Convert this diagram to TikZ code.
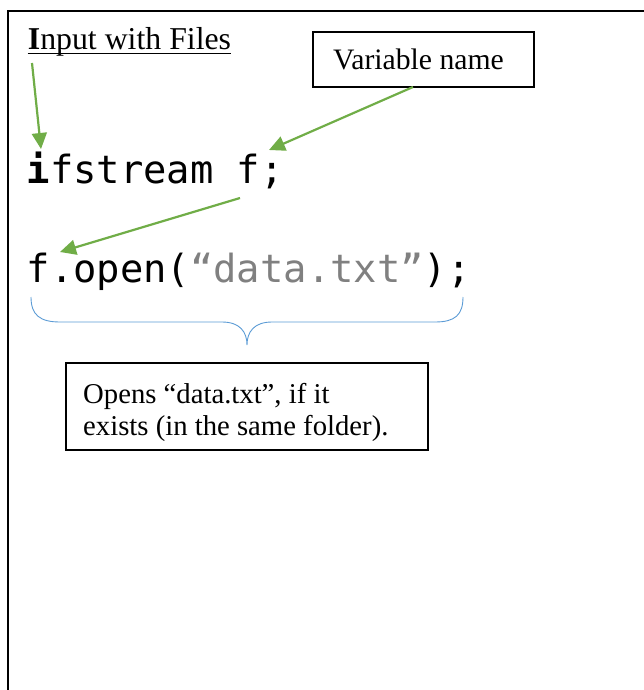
\documentclass[tikz,border=0pt]{standalone}
\usepackage{fontspec}
\setmainfont{Liberation Serif}
\newfontfamily\codefont{DejaVu Sans Mono}
\usetikzlibrary{arrows.meta}
\definecolor{arrowgreen}{HTML}{70AD47}
\definecolor{bracecol}{HTML}{5B9BD5}
\definecolor{strgray}{HTML}{808080}
\begin{document}
\begin{tikzpicture}[x=1pt,y=-1pt,
  greenarrow/.style={draw=arrowgreen, line width=2.2pt, -{Triangle[length=16pt,width=15pt]}},
  box/.style={draw, line width=1.3pt, inner sep=0pt},
  plain/.style={anchor=base west, inner sep=0pt},
  bodyfont/.style={font=\fontsize{28.7}{32}\selectfont},
  codetext/.style={plain, font=\codefont\fontsize{38.8}{44}\selectfont}]
\useasboundingbox (0,0) rectangle (644,690);
% frame
\draw[line width=2pt] (7.5,690) -- (7.5,11) -- (644,11);
% heading
\node[plain, font=\fontsize{31.8}{38}\selectfont] (title) at (27.7,50) {\textbf{I}nput with Files};
\draw[line width=1.5pt] ([yshift=-3.5pt]title.base west) -- ([yshift=-3.5pt]title.base east);
% variable name box
\node[box, font=\fontsize{29.7}{34}\selectfont, minimum width=221pt, minimum height=55pt] (var) at (423.5,59.5) {Variable name\kern10pt};
% code
\node[codetext] (decl) at (26.5,183) {\textbf{i}fstream f;};
\node[codetext] (open) at (26.5,282) {f.open(\textcolor{strgray}{“data.txt”});};
% brace
\draw[bracecol, line width=0.9pt] (31,297) .. controls (31,315) and (40,322) .. (60,322) -- (222,322)
  .. controls (240,322) and (247,332) .. (247,345)
  .. controls (247,332) and (254,322) .. (272,322) -- (435,322)
  .. controls (455,322) and (463,315) .. (463,297);
% note box
\node[box, minimum width=362pt, minimum height=87pt] (note) at (247,406.5) {};
\node[plain, bodyfont] (note1) at (83,403) {Opens “data.txt”, if it};
\node[plain, bodyfont] (note2) at (83,435) {exists (in the same folder).};
% arrows
\coordinate (a1s) at (32,63);
\coordinate (a1e) at (41,149);
\coordinate (a2s) at (413,87);
\coordinate (a2e) at (269,150);
\coordinate (a3s) at (240,198);
\coordinate (a3e) at (60,252);
\draw[greenarrow] (a1s) -- (a1e);
\draw[greenarrow] (a2s) -- (a2e);
\draw[greenarrow] (a3s) -- (a3e);
\end{tikzpicture}
\end{document}
